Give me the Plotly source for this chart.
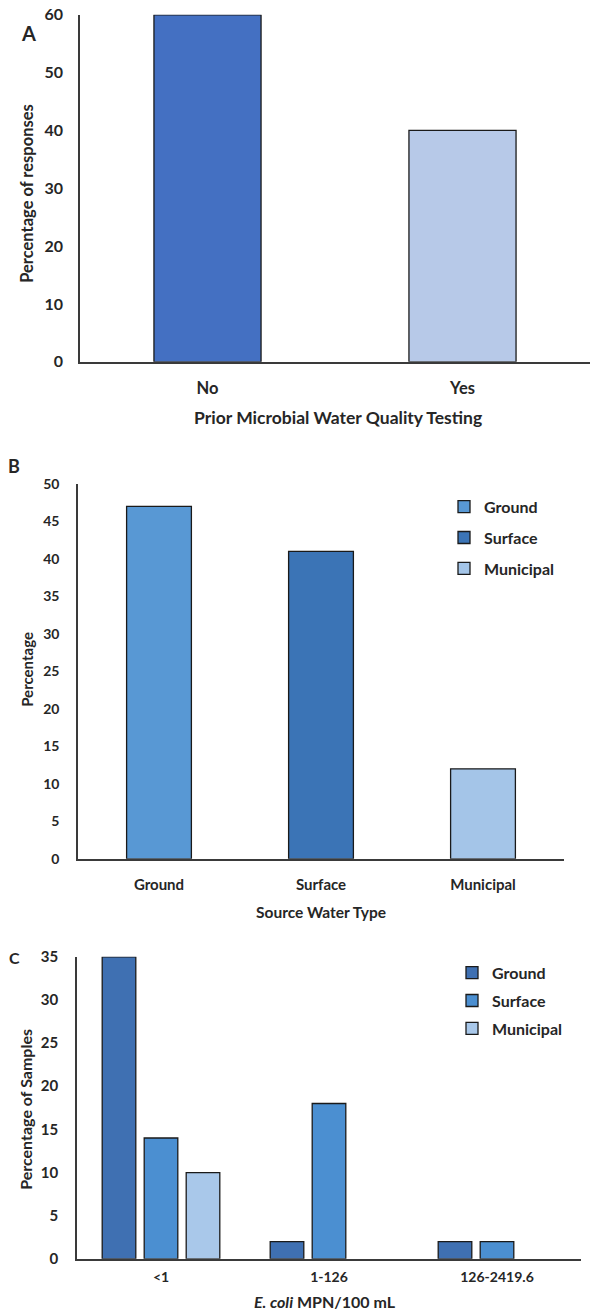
import plotly.graph_objects as go

# ---- data ----
testing_cats = ["No", "Yes"]
testing_pct = [60, 40]

source_cats = ["Ground", "Surface", "Municipal"]
source_pct = [47, 41, 12]

ecoli_bins = ["<1", "1-126", "126-2419.6"]
ecoli_ground = [35, 2, 2]
ecoli_surface = [14, 18, 2]
ecoli_municipal = [10, 0, 0]

# ---- styling ----
W, H = 599, 1312
FONT = "Lato"
TXT = "#262626"
OUT = "#1a1a1a"

colA = ["#4470c2", "#b7c9e8"]
colB = {"Ground": "#5898d4", "Surface": "#3b74b6", "Municipal": "#a4c5e8"}
colC = {"Ground": "#3f70b2", "Surface": "#4b8fd1", "Municipal": "#a9c8ea"}


def fx(px):
    return px / W


def fy(py):
    # pixel row from the top -> paper fraction (slight stretch to fill the page)
    p = (py - 10.2) / 0.9855
    return 1 - p / H


def tf(size):
    return dict(family=FONT, size=size, color=TXT, weight="bold")


fig = go.Figure()

# Panel A
bwA = 0.42
for cat, val, c in zip(testing_cats, testing_pct, colA):
    fig.add_trace(go.Bar(
        x=[cat], y=[val], xaxis="x", yaxis="y", width=bwA, offset=-bwA / 2,
        marker=dict(color=c, line=dict(color=OUT, width=1.3)), showlegend=False))

# Panel B
bwB = 0.4
for cat, val in zip(source_cats, source_pct):
    fig.add_trace(go.Bar(
        x=[cat], y=[val], name=cat, xaxis="x2", yaxis="y2", width=bwB, offset=-bwB / 2,
        marker=dict(color=colB[cat], line=dict(color=OUT, width=1.3)),
        legend="legend", legendgroup="b_" + cat))

# Panel C
bwC = 0.2
stepC = 0.25
for i, (name, vals) in enumerate([("Ground", ecoli_ground), ("Surface", ecoli_surface),
                                   ("Municipal", ecoli_municipal)]):
    xs = [b for b, v in zip(ecoli_bins, vals) if v > 0]
    ys = [v for v in vals if v > 0]
    fig.add_trace(go.Bar(
        x=xs, y=ys, name=name, xaxis="x3", yaxis="y3", width=bwC,
        offset=(i - 1) * stepC - bwC / 2,
        marker=dict(color=colC[name], line=dict(color=OUT, width=1.3)),
        legend="legend2", legendgroup="c_" + name))

axis_line = dict(showline=True, linecolor="#3a3a3a", linewidth=1.5, showgrid=False,
                 zeroline=False, ticks="", fixedrange=True)

fig.update_layout(
    width=W, height=H, margin=dict(l=0, r=0, t=0, b=0),
    paper_bgcolor="white", plot_bgcolor="white",
    barmode="group",
    font=dict(family=FONT, color=TXT),
    xaxis=dict(domain=[fx(80), fx(590)], type="category", range=[-0.5, 1.5],
               anchor="y", tickfont=tf(16.5), ticklabelstandoff=11, **axis_line),
    yaxis=dict(domain=[fy(362), fy(15)], range=[0, 60], dtick=10, anchor="x",
               tickfont=tf(16), ticklabelstandoff=12, **axis_line),
    xaxis2=dict(domain=[fx(78), fx(564)], type="category", range=[-0.5, 2.5],
                anchor="y2", tickfont=tf(15), ticklabelstandoff=11, **axis_line),
    yaxis2=dict(domain=[fy(859), fy(484)], range=[0, 50], dtick=5, anchor="x2",
                tickfont=tf(14), ticklabelstandoff=14, **axis_line),
    xaxis3=dict(domain=[fx(77), fx(581)], type="category", range=[-0.5, 2.5],
                anchor="y3", tickfont=tf(14), ticklabelstandoff=5, **axis_line),
    yaxis3=dict(domain=[fy(1259), fy(957)], range=[0, 35], dtick=5, anchor="x3",
                tickfont=tf(15), ticklabelstandoff=14, **axis_line),
    legend=dict(x=fx(444), y=fy(490), xanchor="left", yanchor="top",
                font=tf(16), tracegroupgap=7, itemwidth=30, bgcolor="rgba(0,0,0,0)"),
    legend2=dict(x=fx(452), y=fy(956), xanchor="left", yanchor="top",
                 font=tf(16), tracegroupgap=4, itemwidth=30, bgcolor="rgba(0,0,0,0)"),
)

ann = []


def label(text, x, y, size=15, angle=0):
    ann.append(dict(text=text, x=fx(x), y=fy(y), xref="paper", yref="paper",
                    showarrow=False, textangle=angle, xanchor="center", yanchor="middle",
                    font=tf(size)))


label("A", 28, 33, size=20)
label("B", 14, 466, size=18)
label("C", 14, 958, size=16)
label("Percentage of responses", 27, 194, size=16.5, angle=-90)
label("Percentage", 27, 670, size=15, angle=-90)
label("Percentage of Samples", 26, 1110, size=16, angle=-90)
label("Prior Microbial Water Quality Testing", 338, 418, size=17.5)
label("Source Water Type", 321, 912, size=15.5)
label("<i>E. coli</i> MPN/100 mL", 325, 1302, size=16)

fig.update_layout(annotations=ann)
fig.write_html("out.html", post_script="document.body.style.margin='0';")
